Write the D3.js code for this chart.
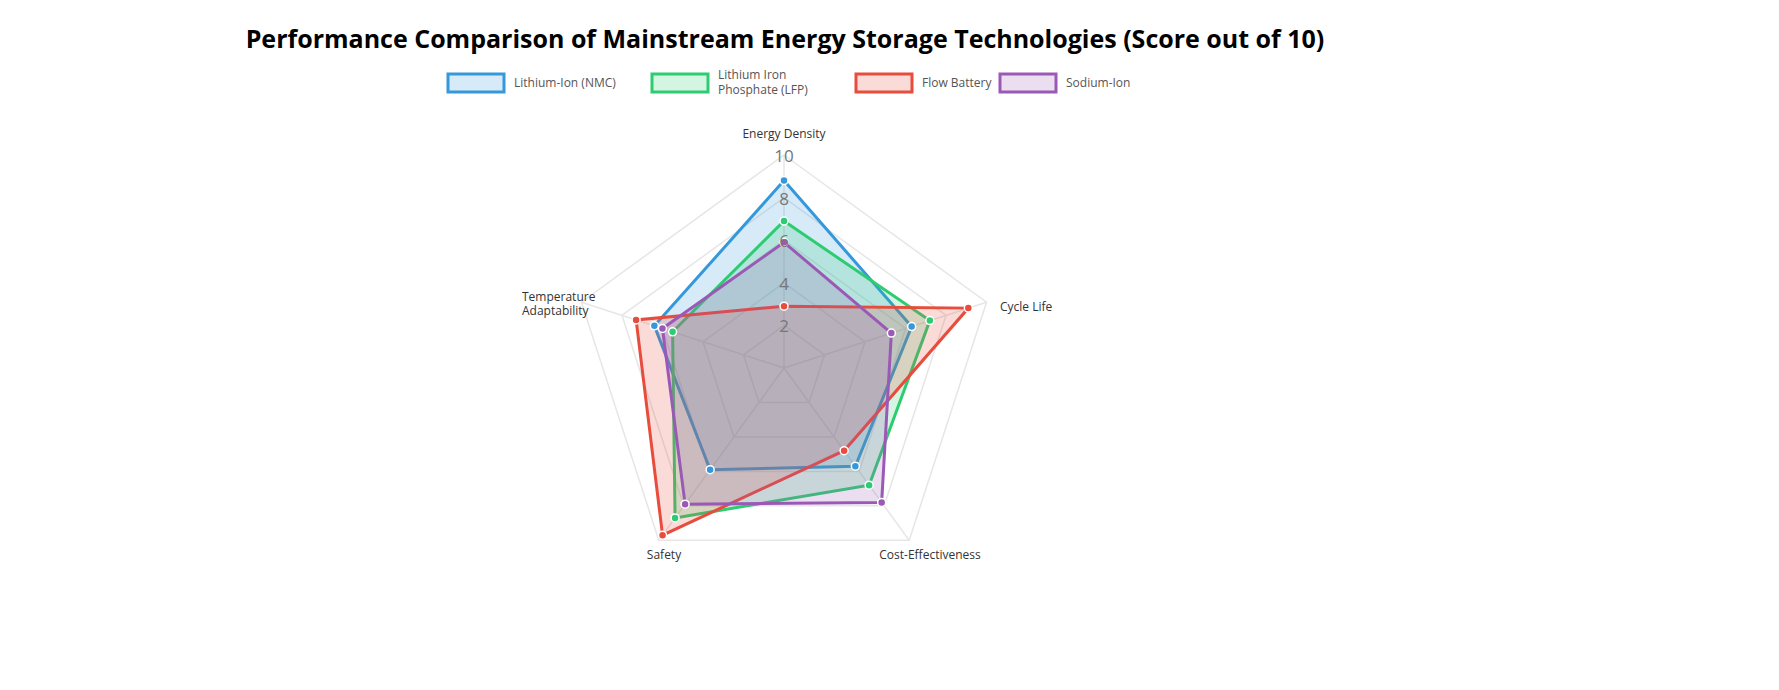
<!DOCTYPE html><html><head><meta charset="utf-8">
<script src="https://cdn.jsdelivr.net/npm/d3@7/dist/d3.min.js"></script>
<style>body{margin:0;background:#fff}svg{font-family:"Open Sans","Noto Sans",sans-serif}</style></head><body>
<svg id="c" width="1779" height="690"></svg>
<script>
const axes=["Energy Density","Cycle Life","Cost-Effectiveness","Safety","Temperature\nAdaptability"];
const seriesNames=["Lithium-Ion (NMC)","Lithium Iron\nPhosphate (LFP)","Flow Battery","Sodium-Ion"];
const colors=["#3498db","#2ecc71","#e74c3c","#9b59b6"];
const nmc=[8.8,6.3,5.7,5.9,6.4];
const lfp=[6.9,7.2,6.8,8.7,5.5];
const flow=[2.9,9.1,4.8,9.7,7.3];
const sodium=[5.9,5.3,7.8,7.9,6.0];
const values=[nmc,lfp,flow,sodium];
const ticks=[2,4,6,8,10];

const svg=d3.select("#c"),cx=784,cy=368,R=213;
const r=d3.scaleLinear().domain([0,10]).range([0,R]);
const ang=i=>-Math.PI/2+i*2*Math.PI/5;
const pt=(i,v)=>[cx+r(v)*Math.cos(ang(i)),cy+r(v)*Math.sin(ang(i))];

svg.append("text").attr("x",785).attr("y",48).attr("text-anchor","middle").attr("font-size",25).attr("font-weight","bold").text("Performance Comparison of Mainstream Energy Storage Technologies (Score out of 10)");

const lx=[448,652,856,1000];
seriesNames.forEach((n,k)=>{
  const g=svg.append("g").attr("transform",`translate(${lx[k]},74)`);
  g.append("rect").attr("width",56).attr("height",18).attr("fill",colors[k]).attr("fill-opacity",0.2).attr("stroke",colors[k]).attr("stroke-width",3);
  const ls=n.split("\n");
  ls.forEach((l,j)=>g.append("text").attr("x",66).attr("y",ls.length>1?5+j*15:13).attr("font-size",12).attr("fill","#555").text(l));
});

const line=d3.line().curve(d3.curveLinearClosed);
ticks.forEach(t=>svg.append("path").attr("d",line(axes.map((a,i)=>pt(i,t)))).attr("fill","none").attr("stroke","#e6e6e6").attr("stroke-width",1.5));
axes.forEach((a,i)=>{const p=pt(i,10);svg.append("line").attr("x1",cx).attr("y1",cy).attr("x2",p[0]).attr("y2",p[1]).attr("stroke","#e6e6e6").attr("stroke-width",1.5);});

values.forEach((vs,k)=>{
  svg.append("path").attr("d",line(vs.map((v,i)=>pt(i,v)))).attr("fill",colors[k]).attr("fill-opacity",0.2).attr("stroke",colors[k]).attr("stroke-width",3);
});
values.forEach((vs,k)=>vs.forEach((v,i)=>{const p=pt(i,v);svg.append("circle").attr("cx",p[0]).attr("cy",p[1]).attr("r",4).attr("fill",colors[k]).attr("stroke","#fff").attr("stroke-width",1.5);}));

ticks.forEach(t=>svg.append("text").attr("x",cx).attr("y",cy-r(t)+7).attr("text-anchor","middle").attr("font-size",17).attr("fill","#777").text(t));

const lab=[[784,138,"middle"],[1000,311,"start"],[930,559,"middle"],[664,559,"middle"],[587,301,"end"]];
axes.forEach((a,i)=>{const ls=a.split("\n");const[x,y,an]=lab[i];
  ls.forEach((l,j)=>svg.append("text").attr("x",i==4?522:x).attr("y",y+j*14).attr("text-anchor",i==4?"start":an).attr("font-size",12).attr("fill","#333").text(l));});
</script></body></html>
